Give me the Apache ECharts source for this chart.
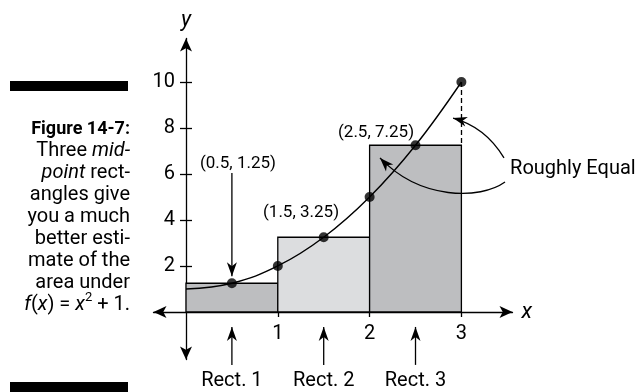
<!DOCTYPE html>
<html>
<head>
<meta charset="utf-8">
<script src="https://cdn.jsdelivr.net/npm/echarts@6/dist/echarts.min.js"></script>
<style>
html, body { margin: 0; padding: 0; background: #fff; }
#chart { width: 643px; height: 392px; }
</style>
</head>
<body>
<div id="chart"></div>
<script>
const FONT = 'Roboto, "Liberation Sans", sans-serif';

// rectangles: left edge, right edge, height (midpoint value)
const rectLeft = [0, 1, 2];
const rectRight = [1, 2, 3];
const rectHeight = [1.25, 3.25, 7.25];
const rectNames = ['Rect. 1', 'Rect. 2', 'Rect. 3'];
const rectColors = ['#bdbec0', '#dcdddf', '#bdbec0'];

// curve f(x)
const curveX = [0, 0.5, 1, 1.5, 2, 2.5, 3];
const curveY = [1, 1.25, 2, 3.25, 5, 7.25, 10];

// black dots
const dotX = [0.5, 1, 1.5, 2, 2.5, 3];
const dotY = [1.25, 2, 3.25, 5, 7.25, 10];

// labelled midpoints
const pointLabels = ['(0.5, 1.25)', '(1.5, 3.25)', '(2.5, 7.25)'];

const xTicks = [1, 2, 3];
const yTicks = [2, 4, 6, 8, 10];

// caption lines, each a list of [text, style] pieces (n normal, b bold, i italic, s superscript)
const caption = [
    [['Figure 14-7:', 'b']],
    [['Three ', 'n'], ['mid-', 'i']],
    [['point', 'i'], [' rect-', 'n']],
    [['angles give', 'n']],
    [['you a much', 'n']],
    [['better esti-', 'n']],
    [['mate of the', 'n']],
    [['area under', 'n']],
    [['f', 'i'], ['(', 'n'], ['x', 'i'], [') = ', 'n'], ['x', 'i'], ['2', 's'], [' + 1.', 'n']]
];

const chart = echarts.init(document.getElementById('chart'));

const rectData = rectLeft.map((l, i) => [l, rectRight[i], rectHeight[i]]);
const curveData = curveX.map((x, i) => [x, curveY[i]]);
const dotData = dotX.map((x, i) => [x, dotY[i]]);

const axisLabelStyle = { color: '#000', fontSize: 20, fontFamily: FONT };
const axisLineStyle = {
    onZero: false,
    symbol: ['arrow', 'arrow'],
    symbolSize: [9, 13],
    lineStyle: { color: '#000', width: 1.3 }
};

chart.setOption({
    animation: false,
    grid: { left: 153.5, right: 130.5, top: 38.5, bottom: 32.5, containLabel: false, outerBoundsMode: 'none' },
    xAxis: {
        type: 'value',
        min: -0.35403,
        max: 3.5566,
        position: 'bottom',
        offset: -47.5,
        splitLine: { show: false },
        axisLine: axisLineStyle,
        axisTick: { customValues: xTicks, length: 5, lineStyle: { color: '#000', width: 1.3 } },
        axisLabel: Object.assign({ customValues: xTicks, margin: 12 }, axisLabelStyle),
        name: 'x',
        nameLocation: 'end',
        nameGap: 9,
        nameTextStyle: { color: '#000', fontSize: 22, fontStyle: 'italic', fontFamily: FONT }
    },
    yAxis: [{
        type: 'value',
        min: -2.0652,
        max: 11.891,
        position: 'left',
        offset: -32.5,
        splitLine: { show: false },
        axisLine: axisLineStyle,
        axisTick: { customValues: yTicks, length: 6, lineStyle: { color: '#000', width: 1.3 } },
        axisLabel: Object.assign({ customValues: yTicks, margin: 11 }, axisLabelStyle),
        name: 'y',
        nameLocation: 'end',
        nameGap: 7,
        nameTextStyle: { color: '#000', fontSize: 22, fontStyle: 'italic', fontFamily: FONT }
    }, {
        type: 'value',
        min: -2.0652,
        max: 11.891,
        position: 'left',
        offset: -32.5,
        splitLine: { show: false },
        axisLine: { show: false, onZero: false },
        axisTick: { customValues: yTicks, inside: true, length: 6, lineStyle: { color: '#000', width: 1.3 } },
        axisLabel: { show: false }
    }],
    series: [
        {
            type: 'custom',
            data: rectData,
            encode: { x: [0, 1], y: 2 },
            z: 1,
            renderItem: function (params, api) {
                const topLeft = api.coord([api.value(0), api.value(2)]);
                const bottomRight = api.coord([api.value(1), 0]);
                return {
                    type: 'rect',
                    shape: {
                        x: topLeft[0],
                        y: topLeft[1],
                        width: bottomRight[0] - topLeft[0],
                        height: bottomRight[1] - topLeft[1]
                    },
                    style: { fill: rectColors[params.dataIndex], stroke: '#000', lineWidth: 1.3 }
                };
            }
        },
        {
            type: 'line',
            data: curveData,
            smooth: 0.4,
            showSymbol: false,
            z: 3,
            lineStyle: { color: '#000', width: 1.4 },
            markLine: {
                silent: true,
                symbol: ['none', 'none'],
                label: { show: false },
                lineStyle: { color: '#000', width: 1.3, type: [5, 3] },
                data: [[{ coord: [dotX[5], dotY[5]] }, { coord: [rectRight[2], rectHeight[2]] }]]
            }
        },
        {
            type: 'scatter',
            data: dotData,
            symbol: 'circle',
            symbolSize: 10,
            z: 4,
            itemStyle: { color: '#000' }
        }
    ]
});

// annotations: arrows and texts placed in data units, turned into pixels
function px(x, y) {
    return chart.convertToPixel({ gridIndex: 0 }, [x, y]);
}

function arrowHead(tip, dir) {
    const len = 14, half = 5, notch = 4;
    const n = Math.hypot(dir[0], dir[1]);
    const ux = dir[0] / n, uy = dir[1] / n;
    const vx = -uy, vy = ux;
    const bx = tip[0] - ux * len, by = tip[1] - uy * len;
    return {
        type: 'polygon',
        z: 10,
        shape: {
            points: [
                tip,
                [bx + vx * half, by + vy * half],
                [tip[0] - ux * (len - notch), tip[1] - uy * (len - notch)],
                [bx - vx * half, by - vy * half]
            ]
        },
        style: { fill: '#000' }
    };
}

function straightArrow(from, to) {
    const a = px(from[0], from[1]);
    const b = px(to[0], to[1]);
    return [
        { type: 'line', z: 10, shape: { x1: a[0], y1: a[1], x2: b[0], y2: b[1] }, style: { stroke: '#000', lineWidth: 1.3 } },
        arrowHead(b, [b[0] - a[0], b[1] - a[1]])
    ];
}

function curvedArrow(p0, c1, c2, p1) {
    const a = px(p0[0], p0[1]), k1 = px(c1[0], c1[1]), k2 = px(c2[0], c2[1]), b = px(p1[0], p1[1]);
    return [
        {
            type: 'bezierCurve', z: 10,
            shape: { x1: a[0], y1: a[1], cpx1: k1[0], cpy1: k1[1], cpx2: k2[0], cpy2: k2[1], x2: b[0], y2: b[1] },
            style: { stroke: '#000', lineWidth: 1.3, fill: null }
        },
        arrowHead(b, [b[0] - k2[0], b[1] - k2[1]])
    ];
}

function label(text, at, size, align) {
    const p = px(at[0], at[1]);
    return {
        type: 'text', z: 10, x: p[0], y: p[1],
        style: { text: text, fill: '#000', fontSize: size, fontFamily: FONT, align: align || 'center', verticalAlign: 'middle' }
    };
}

const graphics = [];

// point labels
graphics.push(label(pointLabels[0], [0.566, 6.43], 17));
graphics.push(label(pointLabels[1], [1.253, 4.30], 17));
graphics.push(label(pointLabels[2], [2.07, 7.78], 17));
graphics.push(...straightArrow([dotX[0], 6.04], [dotX[0], 1.55]));

// rect arrows under the x axis
rectLeft.forEach((l, i) => {
    const mid = (l + rectRight[i]) / 2;
    graphics.push(...straightArrow([mid, -2.3], [mid, -0.65]));
    graphics.push(label(rectNames[i], [mid, -3.0], 20));
});

// "Roughly Equal" and its two curved arrows
graphics.push(label('Roughly Equal', [3.53, 6.22], 20, 'left'));
graphics.push(...curvedArrow([3.464, 6.70], [3.333, 7.57], [3.148, 8.17], [2.909, 8.43]));
graphics.push(...curvedArrow([3.475, 5.65], [3.203, 4.87], [2.549, 4.87], [2.113, 6.70]));

// caption on the left, right aligned at x = 130, built piece by piece
graphics.push({ type: 'rect', shape: { x: 10, y: 81, width: 118, height: 10 }, style: { fill: '#000' } });
graphics.push({ type: 'rect', shape: { x: 10, y: 382, width: 118, height: 10 }, style: { fill: '#000' } });

const pieceStyles = {
    n: { fontSize: 20, dy: 0 },
    b: { fontSize: 18, fontWeight: 'bold', dy: 0 },
    i: { fontSize: 20, fontStyle: 'italic', dy: 0 },
    s: { fontSize: 13, dy: -7 }
};
const measure = document.createElement('canvas').getContext('2d');
function pieceWidth(text, st) {
    measure.font = (st.fontStyle || '') + ' ' + (st.fontWeight || '') + ' ' + st.fontSize + 'px ' + FONT;
    return measure.measureText(text).width;
}

caption.forEach((line, i) => {
    const y = 129 + i * 22;
    let right = 130;
    for (let k = line.length - 1; k >= 0; k--) {
        const text = line[k][0];
        const st = pieceStyles[line[k][1]];
        const style = { text: text, fill: '#000', fontSize: st.fontSize, fontFamily: FONT, align: 'right', verticalAlign: 'middle' };
        if (st.fontWeight) style.fontWeight = st.fontWeight;
        if (st.fontStyle) style.fontStyle = st.fontStyle;
        graphics.push({ type: 'text', z: 10, x: right, y: y + st.dy, style: style });
        right -= pieceWidth(text, st);
    }
});

chart.setOption({ graphic: graphics });
</script>
</body>
</html>
